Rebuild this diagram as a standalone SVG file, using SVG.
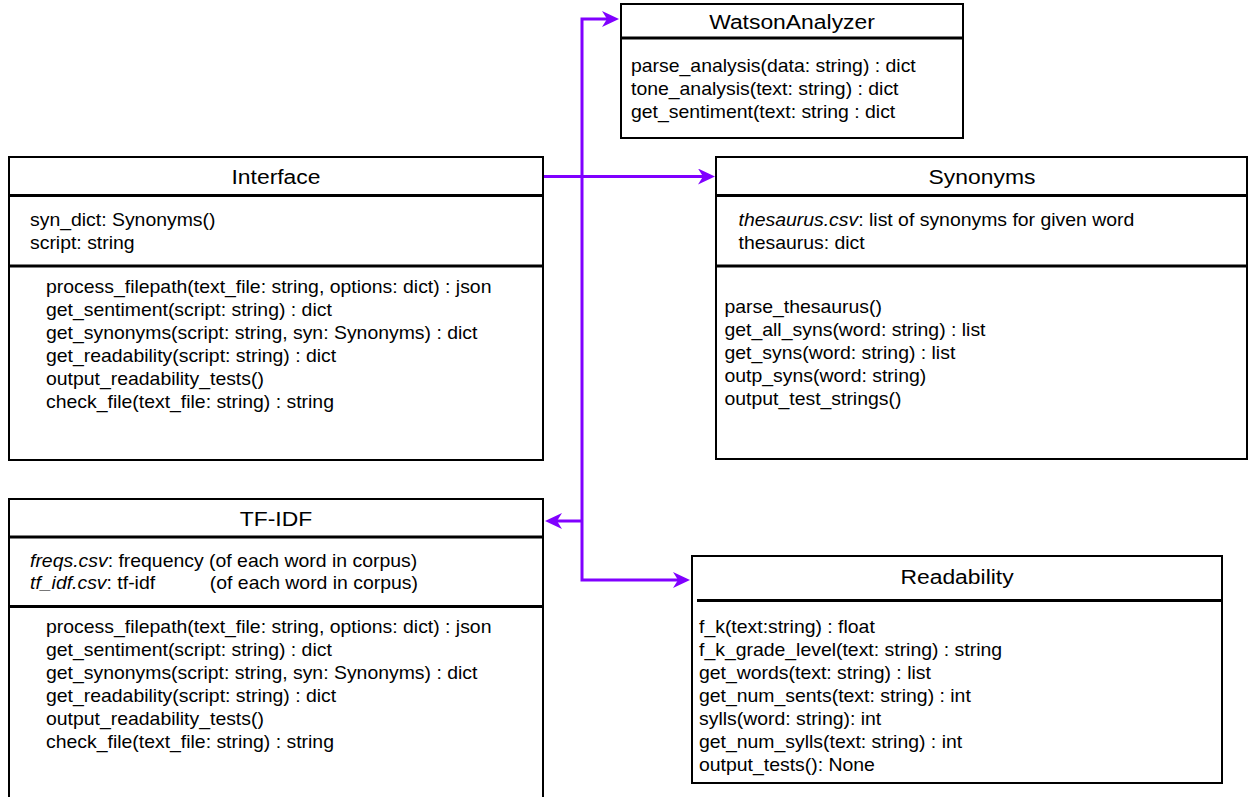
<svg xmlns="http://www.w3.org/2000/svg" width="1248" height="797" viewBox="0 0 1248 797">
<style>
.box{fill:#fff;stroke:#000;stroke-width:2}
.div{stroke:#000;stroke-width:3;fill:none}
.t{font-family:"Liberation Sans",Arial,Helvetica,sans-serif;font-size:21px;fill:#000;text-anchor:middle}
.b{font-family:"Liberation Sans",Arial,Helvetica,sans-serif;font-size:17.5px;fill:#000}
.i{font-style:italic}
.con{fill:none;stroke:#8000ff;stroke-width:3}
</style>
<defs>
<marker id="arr" markerUnits="userSpaceOnUse" markerWidth="18" markerHeight="17" refX="5" refY="8" orient="auto">
<path d="M0,0 L17,8 L0,16 L5,8 Z" fill="#8000ff"/>
</marker>
</defs>
<rect width="1248" height="797" fill="#fff"/>

<g id="connectors">
<path class="con" d="M543 176.5 H703" marker-end="url(#arr)"/>
<path class="con" d="M582 521 V19 H607" marker-end="url(#arr)"/>
<path class="con" d="M582 521 H557" marker-end="url(#arr)"/>
<path class="con" d="M582 521 V580 H678" marker-end="url(#arr)"/>
</g>

<g id="watsonanalyzer">
<rect class="box" x="621" y="4" width="342" height="134"/>
<line class="div" x1="621" y1="38" x2="963" y2="38"/>
<text class="t" transform="matrix(1.09,0,0,1,792,28.5)">WatsonAnalyzer</text>
<text class="b" transform="matrix(1.11,0,0,1,631,72)"><tspan x="0" y="0">parse_analysis(data: string) : dict</tspan><tspan x="0" y="23">tone_analysis(text: string) : dict</tspan><tspan x="0" y="46">get_sentiment(text: string : dict</tspan></text>
</g>

<g id="interface">
<rect class="box" x="9" y="157" width="534" height="303"/>
<line class="div" x1="9" y1="195.5" x2="543" y2="195.5"/>
<line class="div" x1="9" y1="266" x2="543" y2="266"/>
<text class="t" transform="matrix(1.09,0,0,1,276,184)">Interface</text>
<text class="b" transform="matrix(1.11,0,0,1,30,226)"><tspan x="0" y="0">syn_dict: Synonyms()</tspan><tspan x="0" y="23">script: string</tspan></text>
<text class="b" transform="matrix(1.11,0,0,1,46,293)"><tspan x="0" y="0">process_filepath(text_file: string, options: dict) : json</tspan><tspan x="0" y="23">get_sentiment(script: string) : dict</tspan><tspan x="0" y="46">get_synonyms(script: string, syn: Synonyms) : dict</tspan><tspan x="0" y="69">get_readability(script: string) : dict</tspan><tspan x="0" y="92">output_readability_tests()</tspan><tspan x="0" y="115">check_file(text_file: string) : string</tspan></text>
</g>

<g id="synonyms">
<rect class="box" x="716" y="157" width="531" height="302"/>
<line class="div" x1="716" y1="195.5" x2="1247" y2="195.5"/>
<line class="div" x1="716" y1="266" x2="1247" y2="266"/>
<text class="t" transform="matrix(1.09,0,0,1,982,184)">Synonyms</text>
<text class="b" transform="matrix(1.11,0,0,1,738.5,226)"><tspan x="0" y="0"><tspan class="i">thesaurus.csv</tspan>: list of synonyms for given word</tspan><tspan x="0" y="23">thesaurus: dict</tspan></text>
<text class="b" transform="matrix(1.11,0,0,1,724.5,313)"><tspan x="0" y="0">parse_thesaurus()</tspan><tspan x="0" y="23">get_all_syns(word: string) : list</tspan><tspan x="0" y="46">get_syns(word: string) : list</tspan><tspan x="0" y="69">outp_syns(word: string)</tspan><tspan x="0" y="92">output_test_strings()</tspan></text>
</g>

<g id="tf-idf">
<rect class="box" x="9" y="499" width="534" height="310"/>
<line class="div" x1="9" y1="537" x2="543" y2="537"/>
<line class="div" x1="9" y1="606.5" x2="543" y2="606.5"/>
<text class="t" transform="matrix(1.09,0,0,1,276,526)">TF-IDF</text>
<text class="b" transform="matrix(1.11,0,0,1,30,566.5)"><tspan x="0" y="0"><tspan class="i">freqs.csv</tspan>: frequency (of each word in corpus)</tspan><tspan x="0" y="23"><tspan class="i">tf_idf.csv</tspan>: tf-idf</tspan><tspan x="162" y="23">(of each word in corpus)</tspan></text>
<text class="b" transform="matrix(1.11,0,0,1,46,633)"><tspan x="0" y="0">process_filepath(text_file: string, options: dict) : json</tspan><tspan x="0" y="23">get_sentiment(script: string) : dict</tspan><tspan x="0" y="46">get_synonyms(script: string, syn: Synonyms) : dict</tspan><tspan x="0" y="69">get_readability(script: string) : dict</tspan><tspan x="0" y="92">output_readability_tests()</tspan><tspan x="0" y="115">check_file(text_file: string) : string</tspan></text>
</g>

<g id="readability">
<rect class="box" x="692" y="556" width="530" height="227"/>
<line class="div" x1="697" y1="600.5" x2="1222" y2="600.5"/>
<text class="t" transform="matrix(1.09,0,0,1,957,584)">Readability</text>
<text class="b" transform="matrix(1.11,0,0,1,699,633)"><tspan x="0" y="0">f_k(text:string) : float</tspan><tspan x="0" y="23">f_k_grade_level(text: string) : string</tspan><tspan x="0" y="46">get_words(text: string) : list</tspan><tspan x="0" y="69">get_num_sents(text: string) : int</tspan><tspan x="0" y="92">sylls(word: string): int</tspan><tspan x="0" y="115">get_num_sylls(text: string) : int</tspan><tspan x="0" y="138">output_tests(): None</tspan></text>
</g>
</svg>
